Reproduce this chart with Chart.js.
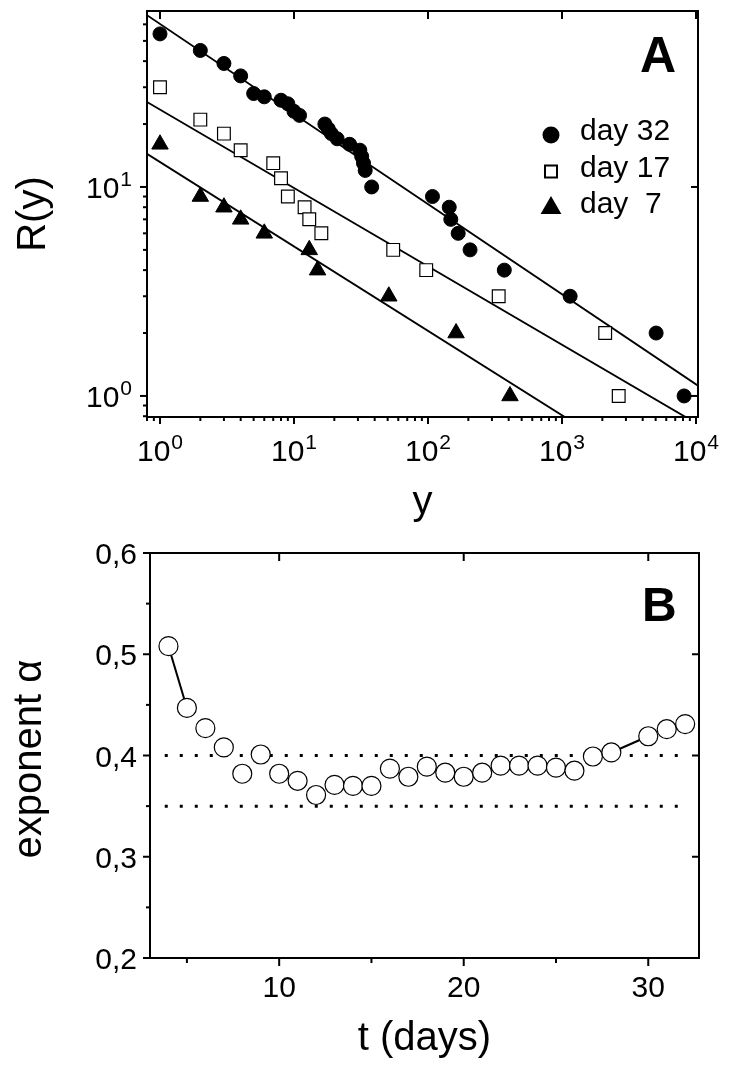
<!doctype html>
<html>
<head>
<meta charset="utf-8">
<title>R(y) and exponent alpha</title>
<script src="https://cdn.jsdelivr.net/npm/chart.js@4"></script>
<style>
  body { margin: 0; background: #fff; }
  .panel { position: absolute; left: 0; }
</style>
</head>
<body>
<canvas id="chartA" class="panel" width="733" height="530" style="top:0"></canvas>
<canvas id="chartB" class="panel" width="733" height="546" style="top:530px"></canvas>
<script>
// ---- panel A: rank R(y) vs y for three days ----
const day32Y = [1, 2, 3, 4, 5, 6, 8, 9, 10, 11, 17, 18, 19, 21, 26, 31, 32, 33, 34, 38, 108, 144, 148, 168, 206, 371, 1150, 5040, 8150];
const day32R = [54, 45, 39, 34, 28, 27, 26, 25, 23, 22, 20, 19, 18, 17, 16, 15, 14, 13, 12, 10, 9, 8, 7, 6, 5, 4, 3, 2, 1];
const day17Y = [1, 2, 3, 4, 7, 8, 9, 12, 13, 16, 55, 97, 337, 2100, 2650];
const day17R = [30, 21, 18, 15, 13, 11, 9, 8, 7, 6, 5, 4, 3, 2, 1];
const day7Y = [1, 2, 3, 4, 6, 13, 15, 51, 162, 409];
const day7R = [16, 9, 8, 7, 6, 5, 4, 3, 2, 1];
// fitted power laws, end points
const fit32Y = [0.8, 10350], fit32R = [66.4, 1.12];
const fit17Y = [0.8, 8430],  fit17R = [25.5, 0.79];
const fit7Y  = [0.8, 1057],  fit7R  = [14.4, 0.79];
const decadesX = [0, 1, 2, 3, 4];
const decadesY = [0, 1];

// ---- panel B: exponent alpha vs t ----
const days  = [4, 5, 6, 7, 8, 9, 10, 11, 12, 13, 14, 15, 16, 17, 18, 19, 20, 21, 22, 23, 24, 25, 26, 27, 28, 30, 31, 32];
const alpha = [0.508, 0.447, 0.427, 0.408, 0.382, 0.401, 0.382, 0.375, 0.361, 0.371, 0.370, 0.370, 0.387, 0.379,
               0.389, 0.383, 0.379, 0.383, 0.390, 0.390, 0.390, 0.388, 0.385, 0.399, 0.403, 0.419, 0.426, 0.431];
const refLevels = [0.40, 0.35];
const refSpan = [3.8, 32.15];
const tTicks = [10, 20, 30];
const tMinor = [5, 15, 25];
const aTicks = [0.2, 0.3, 0.4, 0.5, 0.6];
const aMinor = [0.25, 0.35, 0.45, 0.55];
const aLabels = ['0,2', '0,3', '0,4', '0,5', '0,6'];

const FONT = '"Liberation Sans", Arial, Helvetica, sans-serif';
Chart.defaults.font.family = FONT;
Chart.defaults.color = '#000';

const pts = (xs, ys) => xs.map((v, i) => ({ x: v, y: ys[i] }));

function seg(ctx, x1, y1, x2, y2) {
  ctx.beginPath(); ctx.moveTo(x1, y1); ctx.lineTo(x2, y2); ctx.stroke();
}

// "10" with a superscript exponent
function powLabel(ctx, exp, x, baseline, align) {
  ctx.font = '30px ' + FONT;
  const wb = ctx.measureText('10').width;
  ctx.font = '21px ' + FONT;
  const we = ctx.measureText(String(exp)).width;
  const total = wb + 1 + we;
  const left = align === 'right' ? x - total : x - total / 2;
  ctx.textAlign = 'left';
  ctx.textBaseline = 'alphabetic';
  ctx.font = '30px ' + FONT;
  ctx.fillText('10', left, baseline);
  ctx.font = '21px ' + FONT;
  ctx.fillText(String(exp), left + wb + 1, baseline - 12);
}

function rotText(ctx, text, x, y, font) {
  ctx.save();
  ctx.translate(x, y);
  ctx.rotate(-Math.PI / 2);
  ctx.font = font;
  ctx.textAlign = 'center';
  ctx.textBaseline = 'alphabetic';
  ctx.fillText(text, 0, 0);
  ctx.restore();
}

const frameA = {
  id: 'frameA',
  afterDraw(chart) {
    const { ctx, chartArea: a, scales: { x, y } } = chart;
    ctx.save();
    ctx.strokeStyle = '#000';
    ctx.fillStyle = '#000';
    ctx.lineWidth = 2;
    ctx.strokeRect(a.left, a.top, a.right - a.left, a.bottom - a.top);
    for (let e = -1; e <= 4; e++) {
      for (let m = 1; m <= 9; m++) {
        const v = m * Math.pow(10, e);
        if (v >= x.min && v <= x.max) {
          const px = x.getPixelForValue(v);
          seg(ctx, px, a.bottom, px, a.bottom + (m === 1 ? 7 : 4));
          if (m === 1) seg(ctx, px, a.top, px, a.top + 8);
        }
        if (v >= y.min && v <= y.max) {
          const py = y.getPixelForValue(v);
          seg(ctx, a.left, py, a.left - (m === 1 ? 7 : 4), py);
          if (m === 1) seg(ctx, a.right, py, a.right - 7, py);
        }
      }
    }
    decadesX.forEach(e => powLabel(ctx, e, x.getPixelForValue(Math.pow(10, e)), 461, 'center'));
    decadesY.forEach(e => powLabel(ctx, e, 132, y.getPixelForValue(Math.pow(10, e)) + 11, 'right'));

    ctx.font = '40px ' + FONT;
    ctx.textAlign = 'center';
    ctx.fillText('y', (a.left + a.right) / 2, 514);
    rotText(ctx, 'R(y)', 45, (a.top + a.bottom) / 2, '40px ' + FONT);

    ctx.font = 'bold 50px ' + FONT;
    ctx.textAlign = 'left';
    ctx.fillText('A', 640, 72);

    // legend
    const rows = chart.data.datasets.filter(d => d.label);
    rows.forEach((d, i) => {
      const cy = 135 + i * 36.5;
      ctx.fillStyle = d.pointBackgroundColor;
      ctx.strokeStyle = '#000';
      Chart.helpers.drawPoint(ctx, {
        pointStyle: d.pointStyle, radius: d.legendRadius, borderWidth: d.pointBorderWidth, rotation: 0
      }, 551, cy);
      ctx.fillStyle = '#000';
      ctx.font = '30px ' + FONT;
      ctx.textAlign = 'left';
      ctx.fillText(d.label, 580, cy + 5);
    });
    ctx.restore();
  }
};

new Chart(document.getElementById('chartA'), {
  type: 'scatter',
  data: {
    datasets: [
      { label: 'day 32', data: pts(day32Y, day32R), pointStyle: 'circle', pointRadius: 7, legendRadius: 7.5,
        pointBackgroundColor: '#000', pointBorderColor: '#000', pointBorderWidth: 1, order: 0 },
      { label: 'day 17', data: pts(day17Y, day17R), pointStyle: 'rect', pointRadius: 9, legendRadius: 8.5,
        pointBackgroundColor: '#fff', pointBorderColor: '#000', pointBorderWidth: 1.2, order: 0 },
      { label: 'day  7', data: pts(day7Y, day7R), pointStyle: 'triangle', pointRadius: 9.5, legendRadius: 10,
        pointBackgroundColor: '#000', pointBorderColor: '#000', pointBorderWidth: 1, order: 0 },
      { data: pts(fit32Y, fit32R), showLine: true, borderColor: '#000', borderWidth: 1.8, pointRadius: 0, order: 1 },
      { data: pts(fit17Y, fit17R), showLine: true, borderColor: '#000', borderWidth: 1.8, pointRadius: 0, order: 1 },
      { data: pts(fit7Y, fit7R), showLine: true, borderColor: '#000', borderWidth: 1.8, pointRadius: 0, order: 1 }
    ]
  },
  options: {
    responsive: false,
    animation: false,
    events: [],
    layout: { padding: { left: 147, top: 11, right: 35, bottom: 113 } },
    scales: {
      x: { type: 'logarithmic', min: 0.8, max: 10350, display: false },
      y: { type: 'logarithmic', min: 0.793, max: 69.5, display: false }
    },
    plugins: { legend: { display: false }, tooltip: { enabled: false } }
  },
  plugins: [frameA]
});

const frameB = {
  id: 'frameB',
  afterDraw(chart) {
    const { ctx, chartArea: a, scales: { x, y } } = chart;
    ctx.save();
    ctx.strokeStyle = '#000';
    ctx.fillStyle = '#000';
    ctx.lineWidth = 2;
    ctx.strokeRect(a.left, a.top, a.right - a.left, a.bottom - a.top);
    tTicks.forEach(v => {
      const px = x.getPixelForValue(v);
      seg(ctx, px, a.bottom, px, a.bottom + 8);
      seg(ctx, px, a.top, px, a.top + 8);
    });
    tMinor.forEach(v => {
      const px = x.getPixelForValue(v);
      seg(ctx, px, a.bottom, px, a.bottom + 5);
    });
    aTicks.forEach(v => {
      const py = y.getPixelForValue(v);
      seg(ctx, a.left, py, a.left - 7, py);
      seg(ctx, a.right, py, a.right - 7, py);
    });
    aMinor.forEach(v => {
      const py = y.getPixelForValue(v);
      seg(ctx, a.left, py, a.left - 4, py);
    });

    ctx.font = '30px ' + FONT;
    ctx.textAlign = 'center';
    ctx.textBaseline = 'alphabetic';
    tTicks.forEach(v => ctx.fillText(String(v), x.getPixelForValue(v), 467));
    ctx.textAlign = 'right';
    aTicks.forEach((v, i) => ctx.fillText(aLabels[i], 137, y.getPixelForValue(v) + 11));

    ctx.font = '40px ' + FONT;
    ctx.textAlign = 'center';
    ctx.fillText('t (days)', (a.left + a.right) / 2, 520);
    rotText(ctx, 'exponent \u03b1', 41, 229, '40px ' + FONT);

    ctx.font = 'bold 48px ' + FONT;
    ctx.textAlign = 'left';
    ctx.fillText('B', 642, 91);
    ctx.restore();
  }
};

const segLen = c => Math.hypot(c.p1.x - c.p0.x, c.p1.y - c.p0.y);

new Chart(document.getElementById('chartB'), {
  type: 'scatter',
  data: {
    datasets: [
      { data: pts(days, alpha), showLine: true, borderColor: '#000', borderWidth: 2,
        segment: { borderColor: c => segLen(c) > 35 ? '#000' : 'rgba(0,0,0,0)' },
        pointStyle: 'circle', pointRadius: 9.5, pointBackgroundColor: '#fff',
        pointBorderColor: '#000', pointBorderWidth: 1.2, order: 0 },
      ...refLevels.map(lv => ({
        data: pts(refSpan, refSpan.map(() => lv)), showLine: true, borderColor: '#000',
        borderWidth: 3, borderDash: [3, 12], pointRadius: 0, order: 1
      }))
    ]
  },
  options: {
    responsive: false,
    animation: false,
    events: [],
    layout: { padding: { left: 150, top: 23, right: 34, bottom: 118 } },
    scales: {
      x: { type: 'linear', min: 3, max: 32.75, display: false },
      y: { type: 'linear', min: 0.2, max: 0.6, display: false }
    },
    plugins: { legend: { display: false }, tooltip: { enabled: false } }
  },
  plugins: [frameB]
});
</script>
</body>
</html>
